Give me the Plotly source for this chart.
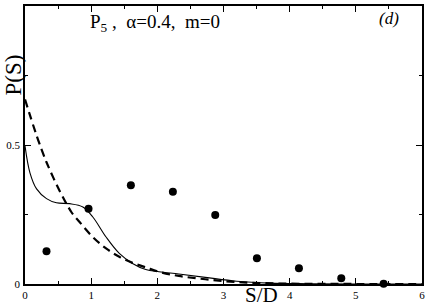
import plotly.graph_objects as go

# Data
dots_x = [0.325, 0.96, 1.60, 2.235, 2.875, 3.505, 4.14, 4.78, 5.42]
dots_y = [0.118, 0.271, 0.355, 0.332, 0.248, 0.093, 0.057, 0.021, 0.001]

solid_x = [0, 0.075, 0.175, 0.325, 0.475, 0.675, 0.875, 1.025, 1.225, 1.425, 1.625, 1.825,
           2.025, 2.325, 2.725, 3.2, 3.7, 4.3, 5.0, 6.0]
solid_y = [0.497, 0.40, 0.342, 0.307, 0.292, 0.289, 0.277, 0.241, 0.169, 0.110, 0.074, 0.052,
           0.044, 0.036, 0.024, 0.010, 0.003, 0.001, 0.0, 0.0]

dash_x = [0, 0.325, 0.70, 0.825, 1.025, 1.225, 1.425, 1.625, 1.825, 2.025, 2.325, 2.725,
          3.2, 3.8, 4.5, 5.2, 6.0]
dash_y = [0.664, 0.438, 0.259, 0.223, 0.169, 0.128, 0.098, 0.076, 0.060, 0.044, 0.029, 0.017,
          0.007, 0.002, 0.0005, 0.0, 0.0]

x_ticks = [0, 1, 2, 3, 4, 5, 6]
y_ticks = [0, 0.5, 1]
y_tick_labels = ["0", "0.5", "1"]

serif = "Liberation Serif, Times New Roman, serif"

fig = go.Figure()
fig.add_trace(go.Scatter(x=dash_x, y=dash_y, mode="lines", line_shape="spline",
                         line=dict(color="black", width=2.2, dash="8px,5px"),
                         showlegend=False))
fig.add_trace(go.Scatter(x=solid_x, y=solid_y, mode="lines", line_shape="spline",
                         line=dict(color="black", width=1.1), showlegend=False))
fig.add_trace(go.Scatter(x=dots_x, y=dots_y, mode="markers",
                         marker=dict(color="black", size=8), showlegend=False,
                         cliponaxis=False))

axis_common = dict(showgrid=False, zeroline=False, showline=True, linecolor="black",
                   linewidth=1.5, mirror="ticks", ticks="inside", tickcolor="black",
                   tickwidth=1, ticklen=6, tickfont=dict(family=serif, size=11, color="black"))

fig.update_xaxes(range=[0, 6], tickvals=x_ticks, ticktext=[str(v) for v in x_ticks],
                 minor=dict(dtick=0.5, ticks="inside", ticklen=3, tickcolor="black"),
                 **axis_common)
fig.update_yaxes(range=[0, 1], tickvals=y_ticks, ticktext=y_tick_labels,
                 minor=dict(dtick=0.25, ticks="inside", ticklen=3, tickcolor="black"),
                 ticklabelstandoff=1, **axis_common)

fig.add_annotation(x=3.57, y=0, xref="x", yref="paper", yshift=-11, text="S/D",
                   showarrow=False, font=dict(family=serif, size=21, color="black"),
                   yanchor="middle")
fig.add_annotation(x=0, y=0.75, xref="paper", yref="paper", xshift=-12, text="P(S)",
                   textangle=-90, showarrow=False, yanchor="middle",
                   font=dict(family=serif, size=23, color="black"), xanchor="center")
fig.add_annotation(x=0.95, y=0.94, xref="x", yref="y", text="P<sub>5</sub> ,  α=0.4,  m=0",
                   showarrow=False, xanchor="left", yanchor="middle",
                   font=dict(family=serif, size=19, color="black"))
fig.add_annotation(x=5.5, y=0.955, xref="x", yref="y", text="<i>(d)</i>",
                   showarrow=False, yanchor="middle",
                   font=dict(family=serif, size=17, color="black"))

fig.update_layout(width=429, height=306, margin=dict(l=25, r=4, t=4, b=22),
                  plot_bgcolor="white", paper_bgcolor="white")

fig.write_html("out.html", config={"displayModeBar": False},
               post_script="document.body.style.margin='0';document.body.style.overflow='hidden';")
